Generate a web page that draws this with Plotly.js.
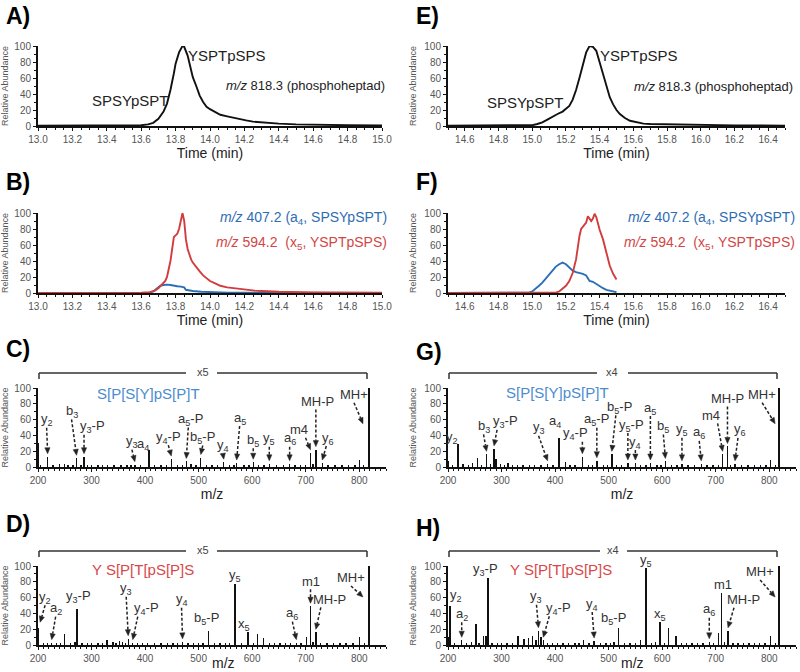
<!DOCTYPE html>
<html><head><meta charset="utf-8">
<script src="https://cdn.plot.ly/plotly-3.0.1.min.js"></script>
<style>html,body{margin:0;padding:0;background:#fff}#chart{width:800px;height:672px}</style>
</head><body><div id="chart"></div>
<script>
// ---------------- DATA ----------------
// Panel A: XIC m/z 818.3 (phosphoheptad), column 1
const tA = [13.0,13.2,13.4,13.55,13.6,13.64,13.67,13.7,13.73,13.75,13.77,13.79,13.8,13.82,13.84,13.85,13.87,13.89,13.9,13.92,13.94,13.96,13.98,14.0,14.03,14.06,14.1,14.14,14.18,14.21,14.25,14.3,14.35,14.4,14.5,14.6,14.7,14.8,15.0];
const iA = [0.5,0.5,0.5,0.6,1,2,4,9,18,28,45,66,78,92,100,99,88,70,61,50,38,30,24,21,17,14,12,10,8,7,5.5,4.5,3.5,3,2,1.5,1.2,1,0.8];
// Panel B: fragment XICs
const tBred = [13.0,13.4,13.6,13.65,13.68,13.7,13.72,13.74,13.75,13.77,13.78,13.79,13.8,13.81,13.82,13.83,13.84,13.85,13.86,13.87,13.88,13.89,13.9,13.92,13.94,13.96,13.98,14.0,14.03,14.06,14.1,14.14,14.2,14.26,14.3,14.4,14.6,15.0];
const iBred = [0,0,0.3,1,3,6,10,15,20,40,55,70,72,74,80,92,100,90,67,55,48,42,38,32,27,22,18,15,12,9,7,6,4,3,2.5,1.5,0.8,0.3];
const tBblue = [13.0,13.6,13.65,13.67,13.69,13.7,13.71,13.73,13.75,13.77,13.79,13.81,13.83,13.85,13.86,13.88,13.9,13.95,14.0,14.1,14.2,15.0];
const iBblue = [0,0,0.5,2,6,8,9,10,10.5,10,9,8.5,8,7,4,3,2.5,1.5,1,0.5,0.3,0];
// Panel E: XIC m/z 818.3, column 2
const tE = [14.5,14.8,14.95,15.0,15.03,15.06,15.09,15.12,15.15,15.18,15.2,15.22,15.24,15.26,15.28,15.3,15.32,15.34,15.36,15.38,15.4,15.42,15.44,15.46,15.48,15.5,15.52,15.55,15.58,15.62,15.66,15.7,15.8,15.9,16.0,16.2,16.5];
const iE = [0.5,0.5,0.6,1,2.5,4.5,8,12,15,18,21,25,33,45,60,78,92,100,99,94,80,66,50,36,27,20,15,10,6.5,4.5,3,2.5,2,1.5,1,0.8,0.5];
// Panel F: fragment XICs
const tFblue = [14.5,14.9,14.98,15.0,15.02,15.04,15.06,15.08,15.1,15.12,15.14,15.16,15.18,15.2,15.22,15.24,15.26,15.28,15.3,15.32,15.34,15.36,15.38,15.4,15.42,15.44,15.46,15.48,15.5];
const iFblue = [0,0,0.5,2,5,9,13,18,24,28,33,36,38,36,32,28,26,25,24,22,15,14,11,9,6,4,3,1.5,1];
const tFred = [14.5,15.1,15.14,15.16,15.18,15.2,15.22,15.24,15.26,15.27,15.28,15.29,15.3,15.31,15.32,15.33,15.34,15.35,15.36,15.37,15.38,15.39,15.4,15.42,15.44,15.46,15.48,15.5];
const iFred = [0,0,0.5,2,5,9,15,25,42,58,71,80,83,85,88,96,93,90,93,99,95,85,79,67,50,34,24,17];

// Panel C: MS/MS SPSYpSPT (x5)
const mzC = [200,205,218,228,240,250,256,265,272,280,286,292,300,312,320,330,342,355,366,374,381,392,407,418,430,440,449,460,470,477,486,495,504,515,525,535,547,558,566,571,585,594,602,612,622,632,645,658,670,680,690,700,709,714,719,731,742,755,768,780,792,800,808,818,819];
const intC = [30,3,13,3,4,4,2,3,11,3,13,3,2,3,2,2,2,2,2,2,3,2,21,3,2,2,10,2,2,7,4,2,12,2,2,2,6,2,3,5,2,2,6,3,2,4,2,2,4,2,3,3,18,4,22,5,2,2,2,2,2,9,2,100,30];
// Panel D: MS/MS YSPTpSPS (x5)
const mzD = [200,210,218,225.5,235,242,250,261,269,273,282,292,300,312,320,329,340,346,352,358,363,368.5,377,386,395,405,418,430,442,452,460,470,480,490,500,508,518,530,540,550,558,568,580,592.5,602,610,621.6,632,642,652,662,672,682.6,691,701,709,714,719,728,740,752,764,775,788,800,810,818,819];
const intD = [22,2,3,3,2,3,14,3,4,46,2,2,3,2,2,6,4,3,5,4,3,8,3,2,2,3,2,2,2,2,3,4,2,2,2,3,18,2,2,2,3,77,3,17,3,14,9,2,2,2,2,2,3,3,10,49,4,16,2,2,2,2,2,2,10,2,100,28];
// Panel G: MS/MS SPSYpSPT (x4)
const mzG = [200,208,219,228,238,246,255,262,272,279,286,290,298,305,312,320,330,340,352,362,374,386,396,407,419,428,437,451,462,470,478,490,498,506,515,524,536,550,560,570,578,590,598,606,618,628,637,648,660,673,684,695,705,713,722,728,736,748,760,772,784,794,802,812,818,819];
const intG = [8,3,29,4,3,5,12,3,16,4,23,10,4,3,5,3,2,2,2,2,2,4,2,37,6,2,3,13,2,2,8,2,2,16,2,2,5,5,2,3,5,2,2,7,2,2,4,2,2,4,2,2,2,16,26,3,4,2,2,2,2,2,9,2,100,35];
// Panel H: MS/MS YSPTpSPS (x4)
const mzH = [200,204,212,225.6,235,244,252,258,266,271,275,282,292,300,310,320,331,342,350,358,364,369,374,378,386,395,405,415,425,437,445,453,463,473,485,495,503,510,518,530,540,550,560,570,580,588,596,604,612,626,636,646,656,666,676,688,696,705,711,716,723,732,742,752,762,772,782,792,802,812,818,819];
const intH = [10,50,3,6,3,4,27,3,12,12,85,3,2,3,2,3,11,8,9,12,6,18,10,6,3,2,3,2,3,2,2,6,2,5,3,2,3,4,21,3,2,2,6,97,3,4,29,3,22,11,2,2,2,3,3,4,2,15,66,4,18,2,2,2,2,2,2,2,11,2,100,33];

// Text content
const seqSPSY = 'S[P[S[Y]pS[P]T';
const seqYSPT = 'Y S[P[T[pS[P]S';
const labelXIC = '<i>m/z</i> 818.3 (phosphoheptad)';
const labelA4 = '<i>m/z</i> 407.2 (a<sub>4</sub>, SPSYpSPT)';
const labelX5 = '<i>m/z</i> 594.2&nbsp;&nbsp;(x<sub>5</sub>, YSPTpSPS)';

// Peak labels: [text, m/z, dx(px), dy(px), arrow, tailDx, anchorHeightOverride]
const labelsC = [
 ['y<sub>2</sub>',218,-1,37,1],['b<sub>3</sub>',272,-5,47,1],['y<sub>3</sub>-P',286,8,30,1,0],
 ['y<sub>3</sub>',381,-3,23,1],['a<sub>4</sub>',407,-6,6,0],['y<sub>4</sub>-P',449,-3,22,1],
 ['a<sub>5</sub>-P',477,4,42,1,2],['b<sub>5</sub>-P',504,2,20,1],['y<sub>4</sub>',547,-1,17,1],
 ['a<sub>5</sub>',571,3,45,1],['b<sub>5</sub>',602,0,22,1],['y<sub>5</sub>',632,0,25,1],
 ['a<sub>6</sub>',670,0,25,1],['m4',709,-12,23,1,-5],['MH-P',719,2,48,1,0],
 ['y<sub>6</sub>',731,6,25,1,4],['MH+',807,-9,32,1,null,51]
];
const labelsD = [
 ['y<sub>2</sub>',204,5,28,1,null,25],['a<sub>2</sub>',225.5,4,34,1],['y<sub>3</sub>-P',273,1,12,0],
 ['y<sub>3</sub>',368.5,-2,50,1],['y<sub>4</sub>-P',377,14,34,1,5],['y<sub>4</sub>',470,-1,42,1],
 ['b<sub>5</sub>-P',518,-2,12,0],['y<sub>5</sub>',568,0,9,0],['x<sub>5</sub>',592.5,-4,7,0],
 ['a<sub>6</sub>',682.6,-4,29,1],['m1',709,0,25,1],['MH-P',719,14,33,1,5],['MH+',807,-12,22,1,null,57]
];
const labelsG = [
 ['y<sub>2</sub>',219,-6,7,0],['b<sub>3</sub>',272,-3,28,1],['y<sub>3</sub>-P',286,11,27,1,3],
 ['y<sub>3</sub>',386,-9,36,1],['a<sub>4</sub>',407,-4,16,0],['y<sub>4</sub>-P',451,-7,23,1,0],
 ['a<sub>5</sub>-P',478,0,41,1],['b<sub>5</sub>-P',506,8,47,1,4],['y<sub>5</sub>-P',536,4,38,1,0],
 ['y<sub>4</sub>',550,0,21,1],['a<sub>5</sub>',578,0,55,1],['b<sub>5</sub>',606,-2,35,1],
 ['y<sub>5</sub>',637,0,34,1],['a<sub>6</sub>',673,-2,31,1],['m4',713,-12,39,1,-5],
 ['MH-P',722,0,48,1],['y<sub>6</sub>',736,5,34,1,3],['MH+',811,-13,32,1,null,51]
];
const labelsH = [
 ['y<sub>2</sub>',204,6,10,0],['a<sub>2</sub>',225.6,0,26,1],['y<sub>3</sub>-P',275,-3,8,0],
 ['y<sub>3</sub>',369,-2,34,1],['y<sub>4</sub>-P',378,15,32,1,6],['y<sub>4</sub>',473,-2,37,1],
 ['b<sub>5</sub>-P',518,-5,10,0],['y<sub>5</sub>',570,0,8,0],['x<sub>5</sub>',596,0,8,0],
 ['a<sub>6</sub>',688,0,32,1],['m1',711,1,8,0],['MH-P',723,15,31,1,6],['MH+',811,-15,28,1,null,57]
];

// ---------------- STYLE / LAYOUT ----------------
const FONT = 'Liberation Sans, Arial, sans-serif';
const BLUE = '#2a6fb5', RED = '#d23c3c', BLUE_T = '#2f6db3', RED_T = '#d24646';
const SEQ_BLUE = '#4a8ccf', SEQ_RED = '#d9474a';

const layout = {width:800, height:672, margin:{l:0,r:0,t:0,b:0}, paper_bgcolor:'#fff', plot_bgcolor:'rgba(0,0,0,0)',
  showlegend:false, font:{family:FONT}, annotations:[], shapes:[], bargap:0};

function axX(dom, range, anchor, kind, titled){
  const a = {domain:[dom[0]/800, dom[1]/800], range, anchor, showline:true, linewidth:2, linecolor:'#111',
    ticks:'outside', ticklen:3, tickwidth:1, tickcolor:'#111', showgrid:false, zeroline:false, fixedrange:true,
    tickfont:{family:FONT, size:10, color:'#555'}};
  if(kind === 't'){
    Object.assign(a, {dtick:0.2, tick0:0, tickformat:'.1f',
      minor:{dtick:0.05, ticks:'outside', ticklen:2, tickcolor:'#111', showgrid:false},
      title:{text:'Time (min)', font:{family:FONT, size:14, color:'#222'}, standoff:2}});
  } else {
    Object.assign(a, {dtick:100, tick0:0,
      minor:{dtick:10, ticks:'outside', ticklen:2, tickcolor:'#111', showgrid:false},
      title:{text: titled ? 'm/z' : '', font:{family:FONT, size:14, color:'#222'}, standoff:3}});
  }
  return a;
}
function axY(top, bottom, anchor){
  return {domain:[1-bottom/672, 1-top/672], range:[0,100], anchor, dtick:20, showline:true, linewidth:2, linecolor:'#111',
    ticks:'outside', ticklen:3, tickwidth:1, tickcolor:'#111',
    minor:{dtick:10, ticks:'outside', ticklen:2, tickcolor:'#111', showgrid:false},
    showgrid:false, zeroline:false, fixedrange:true, tickfont:{family:FONT, size:10, color:'#555'},
    title:{text:'Relative Abundance', font:{family:FONT, size:9, color:'#555'}, standoff:6}};
}

// A..H -> axes 1..8
layout.xaxis  = axX([38,382], [13,15], 'y', 't');    layout.yaxis  = axY(46,126,'x');
layout.xaxis2 = axX([38,382], [13,15], 'y2', 't');   layout.yaxis2 = axY(213,293,'x2');
layout.xaxis3 = axX([38,386], [200,850], 'y3', 'm', true); layout.yaxis3 = axY(388,467,'x3');
layout.xaxis4 = axX([38,386], [200,850], 'y4', 'm', false); layout.yaxis4 = axY(566,645,'x4');
layout.xaxis5 = axX([448,785], [14.5,16.5], 'y5', 't'); layout.yaxis5 = axY(46,126,'x5');
layout.xaxis6 = axX([448,785], [14.5,16.5], 'y6', 't'); layout.yaxis6 = axY(213,293,'x6');
layout.xaxis7 = axX([448,796], [200,850], 'y7', 'm', true); layout.yaxis7 = axY(388,467,'x7');
layout.xaxis8 = axX([448,796], [200,850], 'y8', 'm', false); layout.yaxis8 = axY(566,645,'x8');

// ---------------- TRACES ----------------
function line(x, y, color, xa, ya){
  return {type:'scatter', mode:'lines', x, y, xaxis:xa, yaxis:ya, line:{color, width:1.9}, hoverinfo:'skip'};
}
function sticks(x, y, xa, ya){
  return {type:'bar', x, y, xaxis:xa, yaxis:ya, width:2.6, marker:{color:'#111', line:{width:0}}, hoverinfo:'skip'};
}
const traces = [
  line(tA, iA, '#111', 'x', 'y'),
  line(tBblue, iBblue, BLUE, 'x2', 'y2'),
  line(tBred, iBred, RED, 'x2', 'y2'),
  sticks(mzC, intC, 'x3', 'y3'),
  sticks(mzD, intD, 'x4', 'y4'),
  line(tE, iE, '#111', 'x5', 'y5'),
  line(tFblue, iFblue, BLUE, 'x6', 'y6'),
  line(tFred, iFred, RED, 'x6', 'y6'),
  sticks(mzG, intG, 'x7', 'y7'),
  sticks(mzH, intH, 'x8', 'y8')
];

// ---------------- ANNOTATIONS ----------------
function txt(x, y, text, font, extra){
  layout.annotations.push(Object.assign({xref:'paper', yref:'paper', x:x/800, y:1-y/672, text, showarrow:false,
    xanchor:'center', yanchor:'middle', font}, extra || {}));
}
const letterFont = {family:FONT, size:23, color:'#000', weight:'bold'};
[['A)',4,16],['B)',4,182],['C)',4,349],['D)',4,524],['E)',414,16],['F)',414,182],['G)',414,352],['H)',414,528]]
  .forEach(([t,x,y]) => txt(x, y, '<b>'+t+'</b>', letterFont, {xanchor:'left'}));

// bottom-row x-axis titles (just under the tick labels, between "500" and "600")
txt(223, 663, 'm/z', {family:FONT, size:14, color:'#222'});
txt(632, 663, 'm/z', {family:FONT, size:14, color:'#222'});

const pepFont = {family:FONT, size:15, color:'#222'};
txt(227, 55, 'YSPTpSPS', pepFont); txt(130, 100, 'SPSYpSPT', pepFont);
txt(305, 85, labelXIC, {family:FONT, size:13, color:'#222'});
txt(639, 55, 'YSPTpSPS', pepFont); txt(525, 102, 'SPSYpSPT', pepFont);
txt(713, 86, labelXIC, {family:FONT, size:13, color:'#222'});
txt(389, 218, labelA4, {family:FONT, size:14, color:BLUE_T}, {xanchor:'right'});
txt(389, 243, labelX5, {family:FONT, size:14, color:RED_T}, {xanchor:'right'});
txt(797, 218, labelA4, {family:FONT, size:14, color:BLUE_T}, {xanchor:'right'});
txt(797, 243, labelX5, {family:FONT, size:14, color:RED_T}, {xanchor:'right'});

const seqFont = s => ({family:FONT, size:15, color:s});
txt(148, 393, seqSPSY, seqFont(SEQ_BLUE));
txt(143, 569, seqYSPT, seqFont(SEQ_RED));
txt(557, 392, seqSPSY, seqFont(SEQ_BLUE));
txt(561, 569, seqYSPT, seqFont(SEQ_RED));

// zoom brackets
function bracket(x0, x1, g0, g1, y, label, lx){
  const L = (xa, ya, xb, yb) => layout.shapes.push({type:'line', xref:'paper', yref:'paper', x0:xa/800, y0:1-ya/672, x1:xb/800, y1:1-yb/672, line:{color:'#333', width:1.5}});
  L(x0, y, g0, y); L(g1, y, x1, y); L(x0, y, x0, y+6); L(x1, y, x1, y+6);
  txt(lx, y-1, label, {family:FONT, size:11, color:'#444'});
}
bracket(39, 367, 186, 217, 373, 'x5', 203);
bracket(39, 367, 186, 217, 551, 'x5', 203);
bracket(449, 777, 597, 628, 373, 'x4', 612);
bracket(449, 777, 600, 627, 551, 'x4', 613);

function heightAt(mzArr, intArr, mz){
  let best = 0, d = Infinity;
  mzArr.forEach((m,i) => { if(Math.abs(m-mz) < d){ d = Math.abs(m-mz); best = i; } });
  return intArr[best];
}
const f2 = v => v.toFixed(2);
function addPeakLabels(list, mzArr, intArr, xa, ya){
  list.forEach(([text, mz, dx, dy, arrow, tx, hOver]) => {
    const h = (hOver != null) ? hOver : heightAt(mzArr, intArr, mz);
    layout.annotations.push({xref:xa, yref:ya, x:mz, y:h, text, showarrow:false, xshift:dx, yshift:dy,
      xanchor:'center', yanchor:'middle', font:{family:FONT, size:13, color:'#333'}});
    if(arrow){
      const sx = (tx != null) ? tx : dx, sy = dy - 8, ex = 0, ey = 3;
      const Ln = Math.hypot(sx-ex, sy-ey);
      if(Ln < 1) return;
      const ux = (sx-ex)/Ln, uy = (sy-ey)/Ln;
      const hl = Math.min(6, Ln), hw = 2.6;
      const bx = ex + ux*hl, by = ey + uy*hl;
      if(Ln > hl + 1){
        layout.shapes.push({type:'line', xref:xa, yref:ya, xsizemode:'pixel', ysizemode:'pixel', xanchor:mz, yanchor:h,
          x0:sx, y0:sy, x1:bx, y1:by, line:{color:'#222', width:1.5, dash:'3px,2px'}});
      }
      const p1x = bx - uy*hw, p1y = by + ux*hw, p2x = bx + uy*hw, p2y = by - ux*hw;
      layout.shapes.push({type:'path', xref:xa, yref:ya, xsizemode:'pixel', ysizemode:'pixel', xanchor:mz, yanchor:h,
        path:`M${f2(ex)},${f2(ey)} L${f2(p1x)},${f2(p1y)} L${f2(p2x)},${f2(p2y)} Z`,
        fillcolor:'#222', line:{color:'#222', width:0.5}});
    }
  });
}
addPeakLabels(labelsC, mzC, intC, 'x3', 'y3');
addPeakLabels(labelsD, mzD, intD, 'x4', 'y4');
addPeakLabels(labelsG, mzG, intG, 'x7', 'y7');
addPeakLabels(labelsH, mzH, intH, 'x8', 'y8');

Plotly.newPlot('chart', traces, layout, {staticPlot:true, displayModeBar:false});
</script></body></html>
